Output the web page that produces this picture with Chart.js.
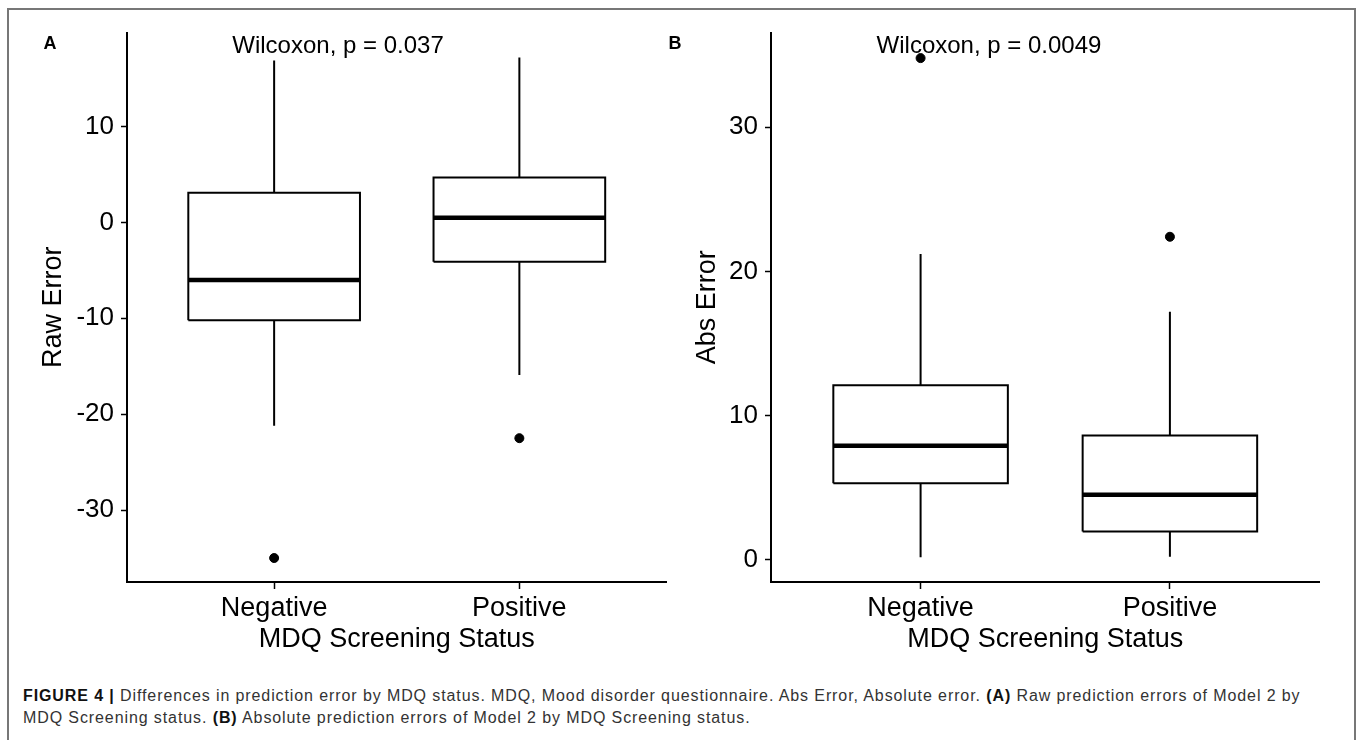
<!DOCTYPE html>
<html>
<head>
<meta charset="utf-8">
<title>Prediction error by MDQ status</title>
<script src="https://cdn.jsdelivr.net/npm/chart.js@4.4.1/dist/chart.umd.min.js"></script>
<style>
  html, body { margin: 0; padding: 0; background: #fff; }
  body { width: 1360px; height: 740px; position: relative; overflow: hidden; font-family: "Liberation Sans", Arial, sans-serif; }
  .frame { position: absolute; left: 7px; top: 8px; width: 1345px; height: 760px; border: 2px solid #777; border-bottom: none; }
  .panel { position: absolute; }
  .tag { position: absolute; font-weight: bold; font-size: 18px; color: #000; transform: translate(-50%, -50%); }
  .note { position: absolute; font-size: 24px; color: #000; white-space: nowrap; transform: translate(-50%, -50%); }
  .caption { position: absolute; left: 23px; top: 685px; font-size: 16px; letter-spacing: 0.9px; line-height: 22px; color: #333; white-space: nowrap; }
  .caption b { color: #111; }
</style>
</head>
<body>
<div class="frame"></div>

<canvas id="chartA" class="panel" style="left:10px; top:10px;" width="662" height="660"></canvas>
<canvas id="chartB" class="panel" style="left:690px; top:10px;" width="635" height="660"></canvas>

<div class="tag" style="left:50px; top:43px;">A</div>
<div class="tag" style="left:675px; top:43px;">B</div>
<div class="note" style="left:338px; top:45px;">Wilcoxon, p = 0.037</div>
<div class="note" style="left:989px; top:45px;">Wilcoxon, p = 0.0049</div>

<div class="caption">
  <b>FIGURE 4 |</b> Differences in prediction error by MDQ status. MDQ, Mood disorder questionnaire. Abs Error, Absolute error. <b>(A)</b> Raw prediction errors of Model 2 by<br>
  MDQ Screening status. <b>(B)</b> Absolute prediction errors of Model 2 by MDQ Screening status.
</div>

<script>
const categories = ['Negative', 'Positive'];

// panel A - raw error
const rawLow = [-21.2, -15.9];
const rawQ1 = [-10.2, -4.1];
const rawMedian = [-6.0, 0.5];
const rawQ3 = [3.1, 4.7];
const rawHigh = [16.9, 17.2];
const rawOutliers = [-35.0, -22.5];
const rawTicks = [-30, -20, -10, 0, 10];

// panel B - absolute error
const absLow = [0.15, 0.2];
const absQ1 = [5.3, 1.95];
const absMedian = [7.9, 4.5];
const absQ3 = [12.1, 8.6];
const absHigh = [21.2, 17.2];
const absOutliers = [34.8, 22.4];
const absTicks = [0, 10, 20, 30];

const halfBox = 0.35;
const fontFamily = '"Liberation Sans", Arial, sans-serif';

function lineSet(points, width) {
  return {
    type: 'scatter',
    data: points,
    showLine: true,
    borderColor: '#000',
    borderWidth: width,
    borderJoinStyle: 'miter',
    pointRadius: 0,
    fill: false
  };
}

function boxDatasets(low, q1, median, q3, high, outliers) {
  const sets = [];
  categories.forEach((c, i) => {
    const x = i + 1;
    sets.push(lineSet([{ x: x, y: q3[i] }, { x: x, y: high[i] }], 2));
    sets.push(lineSet([{ x: x, y: q1[i] }, { x: x, y: low[i] }], 2));
    sets.push(lineSet([
      { x: x - halfBox, y: q1[i] }, { x: x + halfBox, y: q1[i] },
      { x: x + halfBox, y: q3[i] }, { x: x - halfBox, y: q3[i] },
      { x: x - halfBox, y: q1[i] }
    ], 2));
    sets.push(lineSet([{ x: x - halfBox, y: median[i] }, { x: x + halfBox, y: median[i] }], 4.5));
  });
  sets.push({
    type: 'scatter',
    data: outliers.map((v, i) => ({ x: i + 1, y: v })),
    backgroundColor: '#000',
    borderColor: '#000',
    pointRadius: 4.5,
    pointHoverRadius: 4.5
  });
  return sets;
}

function makeChart(id, datasets, opts) {
  return new Chart(document.getElementById(id), {
    type: 'scatter',
    data: { datasets: datasets },
    options: {
      responsive: false,
      animation: false,
      events: [],
      layout: { padding: { top: 18, right: 4, bottom: 0, left: 0 } },
      plugins: { legend: { display: false }, tooltip: { enabled: false } },
      scales: {
        x: {
          type: 'linear',
          min: 0.4,
          max: 2.6,
          afterBuildTicks: (scale) => { scale.ticks = categories.map((c, i) => ({ value: i + 1 })); },
          afterFit: (scale) => { scale.height = 88; },
          border: { display: true, color: '#000', width: 2 },
          grid: { display: true, drawOnChartArea: false, drawTicks: true, tickLength: 7, tickWidth: 1.5, tickColor: '#000' },
          ticks: {
            color: '#000',
            padding: 3,
            font: { family: fontFamily, size: 27 },
            callback: (v) => categories[v - 1]
          },
          title: {
            display: true,
            text: 'MDQ Screening Status',
            color: '#000',
            font: { family: fontFamily, size: 27 },
            padding: { top: 0, bottom: 14 }
          }
        },
        y: {
          type: 'linear',
          min: opts.min,
          max: opts.max,
          afterBuildTicks: (scale) => { scale.ticks = opts.ticks.map(v => ({ value: v })); },
          afterFit: (scale) => { scale.width = opts.axisWidth; },
          border: { display: true, color: '#000', width: 2 },
          grid: { display: true, drawOnChartArea: false, drawTicks: true, tickLength: 6, tickWidth: 1.5, tickColor: '#000' },
          ticks: {
            color: '#000',
            padding: 7,
            font: { family: fontFamily, size: 26 }
          },
          title: {
            display: true,
            text: opts.title,
            color: '#000',
            font: { family: fontFamily, size: 27 },
            padding: { top: opts.titlePad, bottom: 0 }
          }
        }
      }
    }
  });
}

makeChart('chartA', boxDatasets(rawLow, rawQ1, rawMedian, rawQ3, rawHigh, rawOutliers), {
  min: -37.5, max: 19.8, ticks: rawTicks, axisWidth: 117, title: 'Raw Error', titlePad: 27
});

makeChart('chartB', boxDatasets(absLow, absQ1, absMedian, absQ3, absHigh, absOutliers), {
  min: -1.56, max: 36.57, ticks: absTicks, axisWidth: 81, title: 'Abs Error', titlePad: 1
});
</script>
</body>
</html>
